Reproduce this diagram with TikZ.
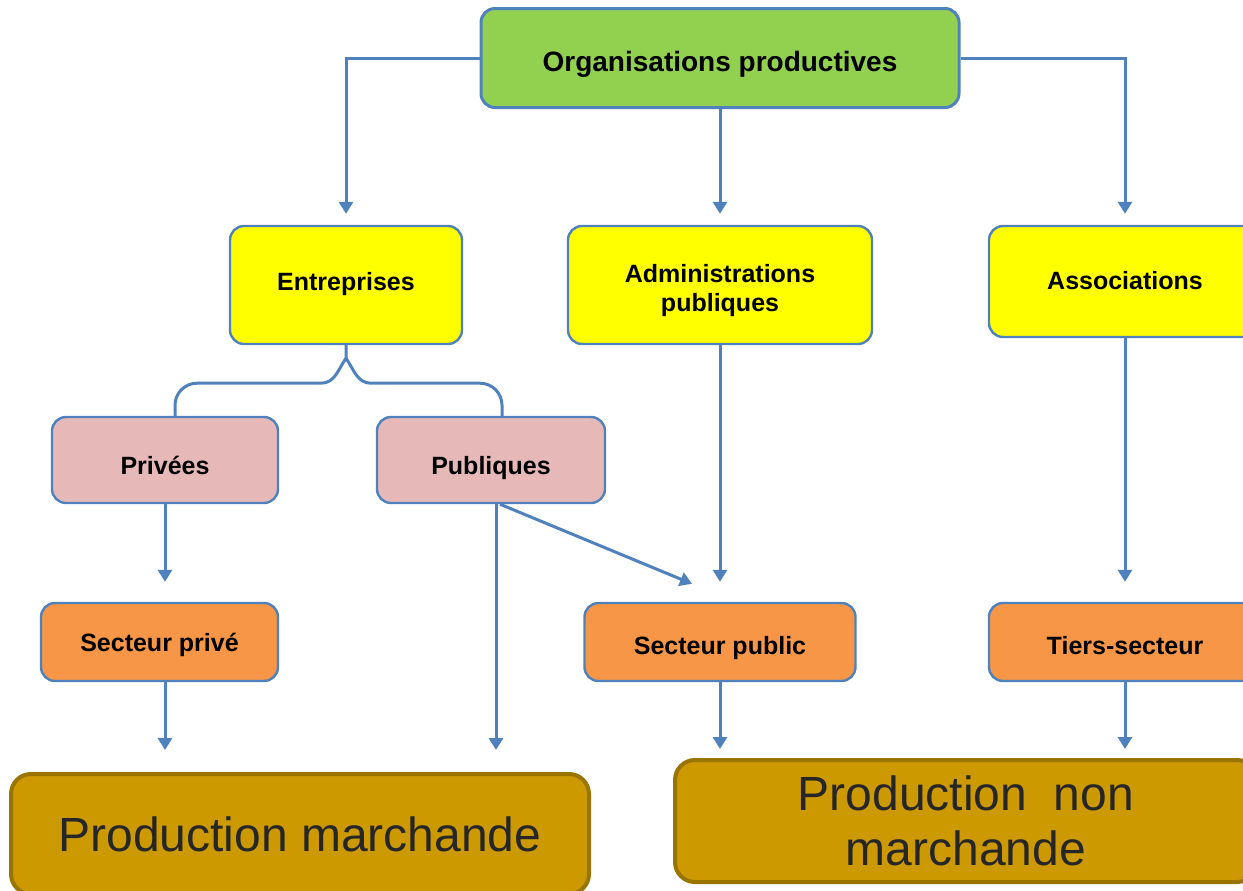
\documentclass[tikz,border=0pt]{standalone}
\usepackage{fontspec}
\setmainfont{Liberation Sans}
\usetikzlibrary{arrows.meta}
\definecolor{bluel}{HTML}{4F81BD}
\definecolor{cgreen}{HTML}{92D050}
\definecolor{cyellow}{HTML}{FFFF00}
\definecolor{cpink}{HTML}{E6B9B8}
\definecolor{corange}{HTML}{F79646}
\definecolor{gold}{HTML}{CC9900}
\definecolor{golddark}{HTML}{9A7400}
\definecolor{textdark}{HTML}{262626}

\begin{document}
\begin{tikzpicture}[x=0.5pt,y=-0.5pt,
  box/.style={draw=bluel,line width=1.2pt,rounded corners=7pt,inner sep=0pt,align=center,
    text height=12pt,text depth=0pt,font=\fontsize{12.5}{14.5}\selectfont\bfseries},
  prod/.style={draw=golddark,line width=2pt,fill=gold,rounded corners=10pt,inner sep=0pt,
    align=center,text=textdark,font=\fontsize{24}{27.5}\selectfont},
  wire/.style={draw=bluel,line width=1.5pt},
  arr/.style={wire,-{Triangle[width=7pt,length=6pt]}}]
  \useasboundingbox (0,0) rectangle (1243,890);
  \clip (0,0) rectangle (1243,890);
  \node[box,fill=cgreen,line width=1.5pt,minimum width=239pt,minimum height=49.5pt,text height=13pt,
    font=\fontsize{14}{16}\selectfont\bfseries] (org) at (720,58) {Organisations productives};
  \node[box,fill=cyellow,minimum width=116pt,minimum height=59pt,text height=5pt] (ent) at (346,285) {Entreprises};
  \node[box,fill=cyellow,minimum width=152pt,minimum height=59pt,text height=26pt] (adm) at (720,285) {Administrations\\publiques};
  \node[box,fill=cyellow,minimum width=136pt,minimum height=55.5pt,text height=7.5pt] (asso) at (1125,281.5) {Associations};
  \node[box,fill=cpink,minimum width=113pt,minimum height=43pt,text height=14pt] (pri) at (165,460) {Privées};
  \node[box,fill=cpink,minimum width=114pt,minimum height=43pt,text height=14pt] (pub) at (491,460) {Publiques};
  \node[box,fill=corange,minimum width=118.5pt,minimum height=39pt,text height=9pt] (spri) at (159.5,642) {Secteur privé};
  \node[box,fill=corange,minimum width=135.5pt,minimum height=39pt] (spub) at (720,642) {Secteur public};
  \node[box,fill=corange,minimum width=136pt,minimum height=39pt] (tiers) at (1125,642) {Tiers-secteur};
  \node[prod,minimum width=289pt,minimum height=60pt] (prodm) at (300,834) {Production marchande};
  \node[prod,minimum width=291pt,minimum height=61pt] (prodn) at (966,821) {Production\ \ non\\marchande};

  \draw[arr,shorten >=5.5pt] (org.west) -| (ent.north);
  \draw[arr,shorten >=5.5pt] (org) -- (adm);
  \draw[arr,shorten >=5.5pt] (org.east) -| (asso.north);
  \coordinate (tip) at ([yshift=-6.5pt]ent.south);
  \draw[wire] (ent.south) -- (tip) to[out=-125,in=0] ++(-25,25) [rounded corners=11pt] -| ([xshift=5pt]pri.north);
  \draw[wire] (tip) to[out=-55,in=180] ++(25,25) [rounded corners=11pt] -| ([xshift=5.5pt]pub.north);
  \draw[arr,shorten >=10pt] (pri.south) -- (pri.south |- spri.north);
  \coordinate (pubd) at ([xshift=2.5pt]pub.south);
  \draw[arr,shorten >=11pt] (pubd) -- (pubd |- prodm.north);
  \draw[arr] ([xshift=4.5pt]pub.south) -- ([xshift=-14pt,yshift=9pt]spub.north);
  \draw[arr,shorten >=10pt] (adm) -- (spub);
  \draw[arr,shorten >=10pt] (asso) -- (tiers);
  \draw[arr,shorten >=11pt] (spri.south -| pri.south) -- (pri.south |- prodm.north);
  \draw[arr,shorten >=4.5pt] (spub.south) -- (spub.south |- prodn.north);
  \draw[arr,shorten >=4.5pt] (tiers.south) -- (tiers.south |- prodn.north);
\end{tikzpicture}
\end{document}
